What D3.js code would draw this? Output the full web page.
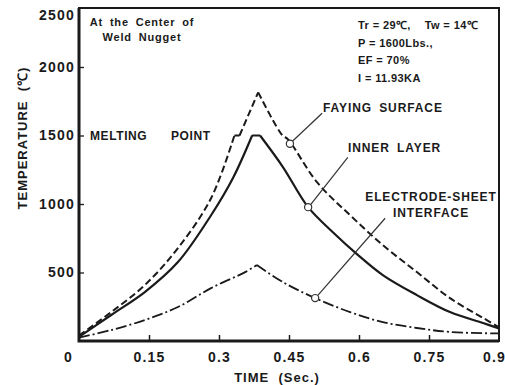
<!DOCTYPE html>
<html>
<head>
<meta charset="utf-8">
<script src="https://cdn.jsdelivr.net/npm/d3@7"></script>
<style>
  body { margin: 0; background: #fff; }
  svg text { font-family: "Liberation Sans", Arial, sans-serif; font-weight: bold; fill: #1a1a1a; }
</style>
</head>
<body>
<svg id="drawing_region"></svg>
<script>
// time (s) / temperature (C)
const fayingTime  = [0, 0.069, 0.141, 0.212, 0.283, 0.333, 0.344, 0.384, 0.436, 0.447, 0.510, 0.581, 0.651, 0.724, 0.795, 0.866, 0.900];
const fayingTemp  = [40, 211, 408, 678, 1042, 1500, 1500, 1815, 1500, 1475, 1159, 918, 700, 503, 313, 168, 100];
const innerTime   = [0, 0.069, 0.141, 0.212, 0.283, 0.330, 0.371, 0.388, 0.437, 0.491, 0.544, 0.598, 0.651, 0.724, 0.795, 0.866, 0.900];
const innerTemp   = [30, 190, 357, 576, 918, 1190, 1500, 1500, 1270, 977, 794, 627, 481, 335, 211, 131, 92];
const electTime   = [0, 0.069, 0.141, 0.212, 0.283, 0.356, 0.381, 0.437, 0.506, 0.581, 0.651, 0.724, 0.795, 0.900];
const electTemp   = [25, 80, 153, 248, 386, 503, 554, 430, 313, 211, 138, 95, 66, 55];

const xTicks = [0, 0.15, 0.3, 0.45, 0.6, 0.75, 0.9];
const yTicks = [500, 1000, 1500, 2000, 2500];

// circle (t,T) on curve, end of leader (t,T)
const leaders = [
    { at: [0.452, 1440], end: [0.521, 1662] },
    { at: [0.491, 977], end: [0.576, 1341] },
    { at: [0.506, 313], end: [0.656, 896] }
];

const config = {
    width: 505,
    height: 385,
    margin: { top: 8, right: 6, bottom: 44, left: 79 }
};

const W = config.width - config.margin.left - config.margin.right;
const H = config.height - config.margin.top - config.margin.bottom;

const svg = d3.select('#drawing_region')
    .attr('width', config.width)
    .attr('height', config.height);

const g = svg.append('g')
    .attr('transform', `translate(${config.margin.left},${config.margin.top})`);

const x = d3.scaleLinear().domain([0, 0.9]).range([0, W]);
// the printed axis is squeezed above 2000
const y = d3.scaleLinear().domain([0, 2000, 2500]).range([H, 59, 7]);

// axes
const xAxis = d3.axisBottom(x)
    .tickValues(xTicks)
    .tickSizeInner(-6)
    .tickSizeOuter(0)
    .tickPadding(11)
    .tickFormat(d => String(d));

const gx = g.append('g')
    .attr('transform', `translate(0,${H})`)
    .call(xAxis);
gx.select('.domain').remove();
gx.selectAll('line').attr('stroke', '#1a1a1a').attr('stroke-width', 1.5)
    .filter(d => d === 0 || d === 0.9).remove();
gx.selectAll('text')
    .style('font-size', '14px')
    .style('letter-spacing', '1.2px')
    .attr('dx', d => d === 0 ? -11 : (d === 0.9 ? -5 : 0));

const yAxis = d3.axisLeft(y)
    .tickValues(yTicks)
    .tickSizeInner(-5)
    .tickSizeOuter(0)
    .tickPadding(4)
    .tickFormat(d3.format('d'));

const gy = g.append('g').call(yAxis);
gy.select('.domain').remove();
gy.selectAll('line').attr('stroke', '#1a1a1a').attr('stroke-width', 1.3)
    .filter(d => d === 2500).remove();
gy.selectAll('text')
    .style('font-size', '14px')
    .style('letter-spacing', '1.2px');

// frame
g.append('rect')
    .attr('x', 0).attr('y', 0)
    .attr('width', W).attr('height', H)
    .attr('fill', 'none')
    .attr('stroke', '#1a1a1a')
    .attr('stroke-width', 2);
g.append('path')
    .attr('d', `M0,0V${H}H${W}`)
    .attr('fill', 'none')
    .attr('stroke', '#1a1a1a')
    .attr('stroke-width', 3);

// curves: split at the peak and at plateau ends so corners stay sharp
const line = d3.line()
    .x(d => x(d[0]))
    .y(d => y(d[1]))
    .curve(d3.curveCatmullRom.alpha(0.5));

function curvePath(ts, vs) {
    const pts = ts.map((t, i) => [t, vs[i]]);
    const k = d3.maxIndex(vs);
    const cuts = [0];
    for (let i = 1; i < vs.length - 1; i++) {
        if (i === k || vs[i] === vs[i + 1] || vs[i] === vs[i - 1]) cuts.push(i);
    }
    cuts.push(vs.length - 1);
    let d = '';
    for (let j = 0; j < cuts.length - 1; j++) {
        d += line(pts.slice(cuts[j], cuts[j + 1] + 1));
    }
    return d;
}

const series = [
    { t: fayingTime, v: fayingTemp, dash: '7,3.5', w: 2 },
    { t: innerTime, v: innerTemp, dash: null, w: 2.2 },
    { t: electTime, v: electTemp, dash: '11,3,2,3', w: 1.8 }
];

g.selectAll('.curve')
    .data(series)
    .enter()
    .append('path')
    .attr('class', 'curve')
    .attr('d', d => curvePath(d.t, d.v))
    .attr('fill', 'none')
    .attr('stroke', '#1a1a1a')
    .attr('stroke-width', d => d.w)
    .attr('stroke-dasharray', d => d.dash);

// leaders
g.selectAll('.leader')
    .data(leaders)
    .enter()
    .append('line')
    .attr('class', 'leader')
    .attr('x1', d => x(d.at[0]) + 2.5)
    .attr('y1', d => y(d.at[1]) - 2.5)
    .attr('x2', d => x(d.end[0]))
    .attr('y2', d => y(d.end[1]))
    .attr('stroke', '#333')
    .attr('stroke-width', 1.2);

g.selectAll('.ring')
    .data(leaders)
    .enter()
    .append('circle')
    .attr('class', 'ring')
    .attr('cx', d => x(d.at[0]))
    .attr('cy', d => y(d.at[1]))
    .attr('r', 3.6)
    .attr('fill', '#fff')
    .attr('stroke', '#333')
    .attr('stroke-width', 1.2);

// leader labels
const lbl = [
    { lines: ["FAYING SURFACE"], x: 244, y: 104, anchor: 'start' },
    { lines: ["INNER LAYER"], x: 269, y: 144, anchor: 'start' },
    { lines: ["ELECTRODE-SHEET", "INTERFACE"], x: 352, y: 193, anchor: 'middle' }
];
lbl.forEach(l => {
    const t = g.append('text')
        .attr('x', l.x).attr('y', l.y)
        .attr('text-anchor', l.anchor)
        .style('font-size', '12px')
        .style('letter-spacing', '0.9px')
        .style('word-spacing', '3px');
    l.lines.forEach((s, i) => {
        t.append('tspan').attr('x', l.x).attr('dy', i === 0 ? 0 : 16).text(s);
    });
});

// melting point
g.append('text')
    .attr('x', 11).attr('y', y(1500) + 4.5)
    .style('font-size', '12px')
    .style('letter-spacing', '0.6px')
    .style('white-space', 'pre')
    .text('MELTING      POINT');

// notes
const tl = g.append('text')
    .attr('text-anchor', 'middle')
    .style('font-size', '11px')
    .style('letter-spacing', '0.8px')
    .style('word-spacing', '3px');
tl.append('tspan').attr('x', 63).attr('y', 18).text('At the Center of');
tl.append('tspan').attr('x', 63).attr('y', 33).text('Weld Nugget');

const notes = ['Tr = 29\u2103,    Tw = 14\u2103', 'P = 1600Lbs.,', 'EF = 70%', 'I = 11.93KA'];
g.selectAll('.note')
    .data(notes)
    .enter()
    .append('text')
    .attr('class', 'note')
    .attr('x', 279)
    .attr('y', (d, i) => 21 + i * 17.5)
    .style('font-size', '11px')
    .style('letter-spacing', '0.4px')
    .style('white-space', 'pre')
    .text(d => d);

// axis titles
svg.append('text')
    .attr('transform', `translate(27,${config.margin.top + 130}) rotate(-90)`)
    .attr('text-anchor', 'middle')
    .style('font-size', '13px')
    .style('letter-spacing', '1px')
    .style('white-space', 'pre')
    .text('TEMPERATURE  (\u2103)');

svg.append('text')
    .attr('x', config.margin.left + 198)
    .attr('y', 382)
    .attr('text-anchor', 'middle')
    .style('font-size', '13px')
    .style('letter-spacing', '1px')
    .style('white-space', 'pre')
    .text('TIME  (Sec.)');
</script>
</body>
</html>
